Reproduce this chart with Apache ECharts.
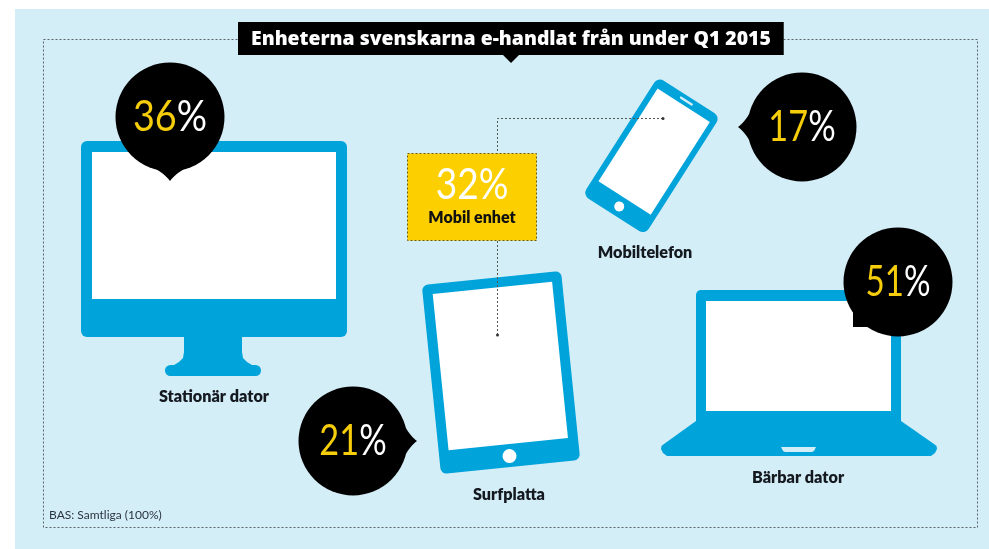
<!DOCTYPE html>
<html>
<head>
<meta charset="utf-8">
<style>html,body{margin:0;padding:0;background:#fff}#chart{width:989px;height:549px}</style>
<script src="https://cdn.jsdelivr.net/npm/echarts@6/dist/echarts.min.js"></script>
</head>
<body>
<div id="chart"></div>
<script>
// Device shares of Swedish e-commerce purchases, Q1 2015
const chartTitle = 'Enheterna svenskarna e-handlat från under Q1 2015';
const deviceNames = ['Stationär dator', 'Mobiltelefon', 'Surfplatta', 'Bärbar dator'];
const deviceShares = [36, 17, 21, 51];
const mobileShare = 32;
const mobileLabel = 'Mobil enhet';
const baseNote = 'BAS: Samtliga (100%)';

// Page layout, in pixels; squeeze narrows the tabular digits where a figure holds a "1"
const BLUE = '#00a3da', PANEL = '#d4eef7', YELLOW = '#fbcf00', GOLD = '#f6cd0a';
const FONT = 'Lato, "Open Sans", sans-serif';
const bubbleLayout = [
  { cx: 170, cy: 117, tip: 90, squeeze: 0.97 },
  { cx: 802, cy: 127, tip: 180, squeeze: 0.88 },
  { cx: 353, cy: 441, tip: 0, squeeze: 0.88 },
  { cx: 898, cy: 282, tip: 'corner', squeeze: 0.85 }
];
const nameLayout = [[214, 397], [645, 253], [509, 495], [798, 478]];
const BUBBLE_R = 54.5;

function bubblePoints(tip) {
  // Pointer outline: two concave curves running from the rim of the bubble to the tip
  const a = tip * Math.PI / 180, spread = 0.25, tipDist = 64, pts = [];
  const rim = (s) => [BUBBLE_R * Math.cos(a + s * spread) * 0.995, BUBBLE_R * Math.sin(a + s * spread) * 0.995];
  const end = [tipDist * Math.cos(a), tipDist * Math.sin(a)];
  const ctrl = (s) => [(BUBBLE_R + 3) * Math.cos(a + s * 0.09), (BUBBLE_R + 3) * Math.sin(a + s * 0.09)];
  const curve = (p0, c, p1) => {
    for (let t = 0; t <= 1.0001; t += 0.125) {
      const u = 1 - t;
      pts.push([u * u * p0[0] + 2 * u * t * c[0] + t * t * p1[0], u * u * p0[1] + 2 * u * t * c[1] + t * t * p1[1]]);
    }
  };
  curve(rim(-1), ctrl(-1), end);
  curve(end, ctrl(1), rim(1));
  pts.push([0, 0]);
  return pts;
}

function renderBubble(params, api) {
  const i = params.dataIndex;
  const p = api.coord([api.value(0), api.value(1)]);
  const share = api.value(2);
  const tip = bubbleLayout[i].tip;
  const pointer = tip === 'corner'
    ? [[-45, 28], [-45, 45], [-28, 45], [0, 30]]
    : bubblePoints(tip);
  return {
    type: 'group',
    x: p[0],
    y: p[1],
    children: [
      { type: 'circle', shape: { cx: 0, cy: 0, r: BUBBLE_R }, style: { fill: '#000' } },
      { type: 'polygon', shape: { points: pointer }, style: { fill: '#000' } },
      {
        type: 'text',
        scaleX: bubbleLayout[i].squeeze,
        scaleY: 1.1,
        style: {
          x: 0, y: 0,
          align: 'center', verticalAlign: 'middle',
          rich: {
            n: { fill: GOLD, fontSize: 39, fontFamily: FONT, fontWeight: 400 },
            p: { fill: '#fff', fontSize: 39, fontFamily: FONT, fontWeight: 400 }
          },
          text: '{n|' + share + '}{p|%}'
        }
      }
    ]
  };
}

function dottedLine(points, color) {
  return {
    type: 'polyline', z: 3, silent: true,
    shape: { points },
    style: { stroke: color || '#555', lineWidth: 1, lineDash: [2, 2], fill: null }
  };
}

function roundRect(x, y, width, height, r, fill, z) {
  return { type: 'rect', z: z || 2, shape: { x, y, width, height, r }, style: { fill } };
}

const desktop = [
  { type: 'polygon', z: 2, shape: { points: [[184, 335], [242, 335], [242, 352], [243, 358], [247, 362], [252, 365], [240, 370], [186, 370], [174, 365], [179, 362], [183, 358], [184, 352]] }, style: { fill: BLUE } },
  roundRect(165, 365, 96, 11, 5.5, BLUE),
  roundRect(81, 141, 266, 196, 6, BLUE),
  roundRect(92, 152, 244, 147, 0, '#fff')
];

const phone = {
  type: 'group', x: 652, y: 155, rotation: -32.5 * Math.PI / 180, z: 2,
  children: [
    roundRect(-37, -69, 74, 140, 7, BLUE),
    roundRect(-31, -59, 62, 110, 0, '#fff'),
    roundRect(-7.5, -65.2, 15, 2.4, 1.2, '#d4eef7'),
    { type: 'circle', z: 2, shape: { cx: 0, cy: 61, r: 5 }, style: { fill: '#fff' } }
  ]
};

const tablet = {
  type: 'group', x: 501, y: 372.5, rotation: 5.8 * Math.PI / 180, z: 2,
  children: [
    roundRect(-70, -95, 140, 190, 6, BLUE),
    roundRect(-60, -85, 120, 157, 0, '#fff'),
    { type: 'circle', z: 2, shape: { cx: 0, cy: 84, r: 7 }, style: { fill: '#fff' } }
  ]
};

const laptop = [
  roundRect(696, 290, 205, 140, [5, 5, 0, 0], BLUE),
  { type: 'polygon', z: 2, shape: { points: [[696, 421], [901, 421], [934, 444], [936.5, 446], [937, 449], [935, 453], [931, 456], [667, 456], [663, 453], [661, 449], [661.5, 446], [664, 444]] }, style: { fill: BLUE } },
  roundRect(706, 301, 185, 110, 0, '#fff'),
  { type: 'polygon', z: 2, shape: { points: [[781, 447], [816, 447], [814, 451], [812, 452], [785, 452], [783, 451]] }, style: { fill: PANEL } }
];

const option = {
  animation: false,
  backgroundColor: '#fff',
  title: {
    text: chartTitle,
    left: 238, top: 22,
    padding: [7, 13, 6, 13],
    backgroundColor: '#000',
    textStyle: { color: '#fff', fontFamily: '"Open Sans", sans-serif', fontWeight: 800, fontSize: 19.4, lineHeight: 20 }
  },
  grid: { left: 0, top: 0, right: 0, bottom: 0 },
  xAxis: { type: 'value', min: 0, max: 989, show: false },
  yAxis: { type: 'value', min: 0, max: 549, inverse: true, show: false },
  graphic: [
    { type: 'rect', z: 0, shape: { x: 15, y: 9, width: 974, height: 540 }, style: { fill: PANEL } },
    { type: 'rect', z: 1, shape: { x: 43.5, y: 39.5, width: 934, height: 488 }, style: { fill: null, stroke: '#5a6468', lineWidth: 1, lineDash: [2, 2] } },
    { type: 'polygon', z: 6, shape: { points: [[502, 54], [520, 54], [511, 63]] }, style: { fill: '#000' } },
    ...desktop,
    phone,
    tablet,
    ...laptop,
    dottedLine([[497.5, 335], [497.5, 118.5], [663, 118.5]]),
    { type: 'circle', z: 3, shape: { cx: 497.5, cy: 335, r: 1.5 }, style: { fill: '#333' } },
    { type: 'circle', z: 3, shape: { cx: 663, cy: 118.5, r: 1.5 }, style: { fill: '#333' } },
    { type: 'rect', z: 4, shape: { x: 407.5, y: 153.5, width: 129, height: 87 }, style: { fill: YELLOW, stroke: '#6b5a10', lineWidth: 1, lineDash: [2, 2] } },
    { type: 'text', z: 5, x: 472, y: 185, scaleX: 0.95, scaleY: 1.1, style: { x: 0, y: 0, text: mobileShare + '%', align: 'center', verticalAlign: 'middle', fill: '#fff', fontFamily: FONT, fontWeight: 400, fontSize: 39 } },
    { type: 'text', z: 5, style: { x: 472, y: 218, text: mobileLabel, align: 'center', verticalAlign: 'middle', fill: '#111', fontFamily: FONT, fontWeight: 800, fontSize: 16 } },
    ...deviceNames.map((name, i) => ({
      type: 'text', z: 5,
      style: { x: nameLayout[i][0], y: nameLayout[i][1], text: name, align: 'center', verticalAlign: 'middle', fill: '#14181f', fontFamily: FONT, fontWeight: 800, fontSize: 16.2 }
    })),
    { type: 'text', z: 5, style: { x: 49, y: 515, text: baseNote, verticalAlign: 'middle', fill: '#2a3440', fontFamily: FONT, fontSize: 12 } }
  ],
  series: [{
    type: 'custom',
    z: 10,
    silent: true,
    clip: false,
    coordinateSystem: 'cartesian2d',
    renderItem: renderBubble,
    encode: { x: 0, y: 1 },
    data: deviceShares.map((share, i) => [bubbleLayout[i].cx, bubbleLayout[i].cy, share])
  }]
};

echarts.init(document.getElementById('chart'), null, { renderer: 'canvas' }).setOption(option);
</script>
</body>
</html>
